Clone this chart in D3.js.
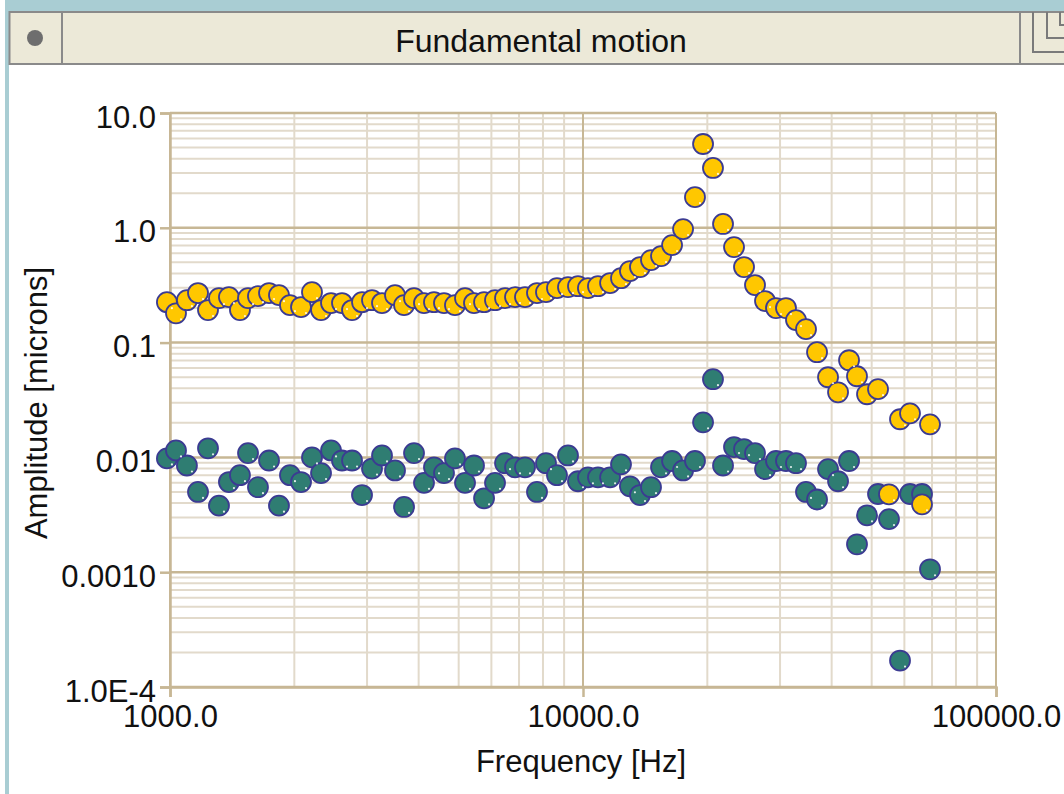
<!DOCTYPE html>
<html>
<head>
<meta charset="utf-8">
<script src="https://cdn.jsdelivr.net/npm/d3@7"></script>
<style>
  html, body { margin: 0; padding: 0; background: #ffffff; }
  svg { display: block; }
  text { font-family: "Liberation Sans", Arial, sans-serif; fill: #111; }
</style>
</head>
<body>
<svg id="chart" width="1064" height="794"></svg>
<script>
// ---- data ----
const title = "Fundamental motion";
const xLabel = "Frequency [Hz]";
const yLabel = "Amplitude [microns]";

const frequencies = [983, 1034, 1099, 1169, 1236, 1314, 1389, 1477, 1545, 1633,
  1737, 1836, 1952, 2076, 2207, 2321, 2454, 2609, 2759, 2917,
  3084, 3261, 3506, 3687, 3898, 4121, 4357, 4607, 4898, 5180,
  5446, 5760, 6123, 6475, 6846, 7237, 7738, 8136, 8650, 9198,
  9725, 10280, 10870, 11630, 12360, 12990, 13740, 14610, 15450, 16430,
  17470, 18670, 19530, 20640, 21830, 23210, 24540, 26090, 27590, 29330,
  31010, 32790, 34670, 36870, 39200, 41450, 44070, 46070, 48720, 51800,
  55070, 58560, 61910, 66200, 69220];

const amplitudeYellow = [0.225, 0.180, 0.234, 0.270, 0.192, 0.244, 0.249, 0.192, 0.244, 0.254,
  0.270, 0.259, 0.212, 0.204, 0.275, 0.192, 0.221, 0.221, 0.192, 0.225,
  0.234, 0.221, 0.259, 0.212, 0.244, 0.221, 0.225, 0.221, 0.212, 0.244,
  0.221, 0.225, 0.234, 0.244, 0.249, 0.249, 0.270, 0.275, 0.298, 0.304,
  0.310, 0.298, 0.310, 0.330, 0.364, 0.420, 0.455, 0.523, 0.567, 0.707,
  0.974, 1.85, 5.37, 3.32, 1.08, 0.679, 0.455, 0.317, 0.230, 0.200,
  0.200, 0.157, 0.131, 0.0825, 0.0499, 0.0369, 0.0702, 0.0509, 0.0355, 0.0393,
  0.00477, 0.0215, 0.0242, 0.0039, 0.0194];

const amplitudeTeal = [0.0098, 0.0115, 0.0085, 0.0050, 0.0120, 0.0038, 0.0061, 0.0070, 0.0109, 0.0055,
  0.0094, 0.0038, 0.0070, 0.0061, 0.0100, 0.0073, 0.0115, 0.0094, 0.0094, 0.0047,
  0.0080, 0.0104, 0.0077, 0.0037, 0.0109, 0.0060, 0.0082, 0.0073, 0.0098, 0.0060,
  0.0085, 0.0044, 0.0060, 0.0089, 0.0082, 0.0082, 0.0050, 0.0089, 0.0070, 0.0104,
  0.0062, 0.0067, 0.0067, 0.0067, 0.0087, 0.0056, 0.0047, 0.0055, 0.0082, 0.0093,
  0.0077, 0.0093, 0.0202, 0.0480, 0.0085, 0.0123, 0.0118, 0.0109, 0.0079, 0.0093,
  0.0093, 0.0089, 0.0050, 0.0043, 0.0079, 0.0062, 0.0093, 0.00175, 0.00313, 0.0048,
  0.0029, 0.00017, 0.0048, 0.0048, 0.00106];

const xTickValues = [1000, 10000, 100000];
const xTickLabels = ["1000.0", "10000.0", "100000.0"];
const yTickValues = [1e-4, 1e-3, 1e-2, 1e-1, 1, 10];
const yTickLabels = ["1.0E-4", "0.0010", "0.01", "0.1", "1.0", "10.0"];

// ---- layout ----
const W = 1064, H = 794;
const plot = { left: 170, right: 996, top: 113, bottom: 687 };
const svg = d3.select("#chart");

const x = d3.scaleLog().domain([1000, 100000]).range([plot.left, plot.right]);
const y = d3.scaleLog().domain([1e-4, 10]).range([plot.bottom, plot.top]);

// ---- window chrome ----
svg.append("rect").attr("x", 0).attr("y", 0).attr("width", W).attr("height", H).attr("fill", "#ffffff");
svg.append("rect").attr("x", 5).attr("y", 0).attr("width", W - 5).attr("height", 11).attr("fill", "#a9cdd3");
svg.append("rect").attr("x", 5).attr("y", 0).attr("width", 4).attr("height", H).attr("fill", "#a9cdd3");
svg.append("rect").attr("x", 9.5).attr("y", 12).attr("width", W).attr("height", 52)
  .attr("fill", "#ece9d8").attr("stroke", "#8a8a8a").attr("stroke-width", 2);
svg.append("line").attr("x1", 62).attr("x2", 62).attr("y1", 12).attr("y2", 64)
  .attr("stroke", "#8a8a8a").attr("stroke-width", 2);
svg.append("line").attr("x1", 1020).attr("x2", 1020).attr("y1", 12).attr("y2", 64)
  .attr("stroke", "#8a8a8a").attr("stroke-width", 2);
// icon at left
svg.append("circle").attr("cx", 35).attr("cy", 38).attr("r", 8).attr("fill", "#6e6e6e");
// nested window icon at right
[[1033, 52], [1047, 38], [1060, 25]].forEach(([ix, iy]) => {
  svg.append("path").attr("d", `M${ix},12 V${iy} H${W}`)
    .attr("fill", "none").attr("stroke", "#7a7a7a").attr("stroke-width", 2);
});
svg.append("text").attr("x", 541).attr("y", 52).attr("text-anchor", "middle")
  .attr("font-size", 32).text(title);

// ---- grid ----
const majorColor = "#c7b795", minorColor = "#e2dacb";
const g = svg.append("g");
const xMinor = [], yMinor = [];
for (let k = 3; k < 5; k++) for (let m = 2; m <= 9; m++) xMinor.push(m * Math.pow(10, k));
for (let k = -4; k < 1; k++) for (let m = 2; m <= 9; m++) yMinor.push(m * Math.pow(10, k));

g.selectAll(".xminor").data(xMinor).join("line")
  .attr("x1", d => x(d)).attr("x2", d => x(d)).attr("y1", plot.top).attr("y2", plot.bottom)
  .attr("stroke", minorColor).attr("stroke-width", 2);
g.selectAll(".yminor").data(yMinor).join("line")
  .attr("y1", d => y(d)).attr("y2", d => y(d)).attr("x1", plot.left).attr("x2", plot.right)
  .attr("stroke", minorColor).attr("stroke-width", 2);
g.selectAll(".xmajor").data(xTickValues).join("line")
  .attr("x1", d => x(d)).attr("x2", d => x(d)).attr("y1", plot.top).attr("y2", plot.bottom)
  .attr("stroke", majorColor).attr("stroke-width", 2);
g.selectAll(".ymajor").data(yTickValues).join("line")
  .attr("y1", d => y(d)).attr("y2", d => y(d)).attr("x1", plot.left).attr("x2", plot.right)
  .attr("stroke", majorColor).attr("stroke-width", 2.5);

// ---- axes ----
const yAxis = d3.axisLeft(y).tickValues(yTickValues)
  .tickFormat((d, i) => yTickLabels[i]).tickSize(10).tickPadding(4);
const yG = svg.append("g").attr("transform", `translate(${plot.left},0)`).call(yAxis);
yG.select(".domain").attr("stroke", majorColor).attr("stroke-width", 2.5);
yG.selectAll(".tick line").attr("stroke", majorColor).attr("stroke-width", 2.5);
yG.selectAll(".tick text").attr("font-size", 31).attr("fill", "#111")
  .attr("font-family", "Liberation Sans, Arial, sans-serif")
  .attr("dy", null).attr("y", 14);

const xAxis = d3.axisBottom(x).tickValues(xTickValues)
  .tickFormat((d, i) => xTickLabels[i]).tickSize(10).tickPadding(4);
const xG = svg.append("g").attr("transform", `translate(0,${plot.bottom})`).call(xAxis);
xG.select(".domain").attr("stroke", majorColor).attr("stroke-width", 2.5);
xG.selectAll(".tick line").attr("stroke", majorColor).attr("stroke-width", 2.5);
xG.selectAll(".tick text").attr("font-size", 31).attr("fill", "#111")
  .attr("font-family", "Liberation Sans, Arial, sans-serif")
  .attr("dy", null).attr("y", 40);

svg.append("text").attr("x", 581).attr("y", 772).attr("text-anchor", "middle")
  .attr("font-size", 31).text(xLabel);
svg.append("text").attr("transform", "translate(47,403) rotate(-90)")
  .attr("text-anchor", "middle").attr("font-size", 31).text(yLabel);

// ---- points ----
const teal = frequencies.map((f, i) => ({ f, a: amplitudeTeal[i] }));
const yellow = frequencies.map((f, i) => ({ f, a: amplitudeYellow[i] }));

function drawSeries(data, fill) {
  const s = svg.append("g");
  s.selectAll("circle.pt").data(data).join("circle").attr("class", "pt")
    .attr("cx", d => x(d.f)).attr("cy", d => y(d.a)).attr("r", 10)
    .attr("fill", fill).attr("stroke", "#3b3b92").attr("stroke-width", 1.8);
  s.selectAll("circle.hl").data(data).join("circle").attr("class", "hl")
    .attr("cx", d => x(d.f) + 5).attr("cy", d => y(d.a) + 6).attr("r", 1.1)
    .attr("fill", "#ffffff").attr("opacity", 0.85);
}
drawSeries(teal, "#2f7d72");
drawSeries(yellow, "#ffc700");
</script>
</body>
</html>
